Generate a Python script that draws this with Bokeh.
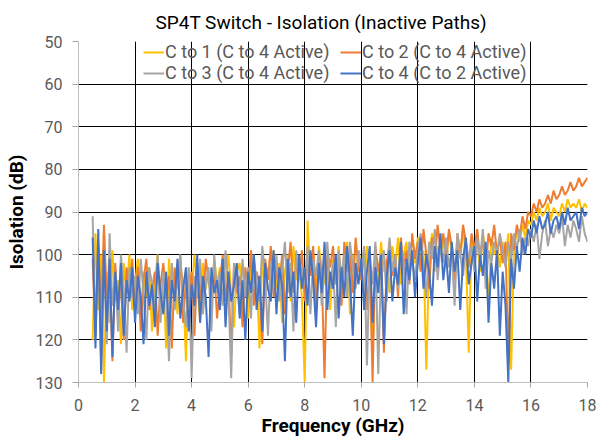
import numpy as np
from bokeh.plotting import figure
from bokeh.models import Range1d, FixedTicker, Legend, LegendItem
from bokeh.embed import file_html
from bokeh.resources import INLINE

# Frequency grid (GHz)
freq = [round(0.5 + 0.1 * i, 1) for i in range(176)]

c1_c4 = [120, 95, 113, 100, 130,
         104, 116, 99, 111, 106, 121, 102, 109, 100, 113,
         107, 101, 115, 104, 110, 103, 118, 106, 100, 112,
         105, 122, 101, 109, 104, 114, 102, 107, 125, 103,
         110, 100, 106, 116, 102, 108, 104, 113, 101, 107,
         103, 111, 106, 100, 109, 117, 104, 102, 112, 105,
         115, 101, 107, 104, 122, 100, 109, 103, 106, 99,
         108, 102, 116, 104, 100, 111, 98, 106, 103, 110,
         130, 92, 105, 100, 109, 98, 103, 107, 99, 113,
         101, 106, 98, 110, 102, 97, 114, 100, 105, 99,
         103, 108, 98, 102, 124, 100, 106, 97, 104, 101,
         109, 98, 103, 96, 107, 100, 97, 105, 99, 102,
         96, 103, 99, 127, 101, 95, 104, 98, 100, 97,
         102, 95, 99, 106, 97, 101, 94, 100, 123, 96,
         101, 97, 104, 95, 99, 112, 96, 100, 98, 103,
         97, 101, 95, 127, 99, 94, 97, 93, 96, 92,
         93, 90, 92, 89, 91, 90, 88, 92, 89, 90,
         91, 88, 90, 87, 89, 88, 89, 87, 90, 88,
         89]

c2_c4 = [101, 119, 97, 115, 93,
         110, 104, 125, 102, 114, 106, 120, 103, 109, 101,
         112, 103, 118, 106, 101, 113, 108, 104, 119, 107,
         102, 110, 105, 122, 103, 108, 100, 116, 106, 111,
         104, 119, 102, 108, 113, 101, 106, 110, 103, 115,
         107, 100, 111, 104, 124, 102, 109, 105, 117, 103,
         108, 99, 112, 104, 107, 121, 101, 106, 98, 110,
         103, 108, 100, 114, 104, 97, 109, 102, 106, 99,
         111, 101, 105, 98, 113, 100, 104, 129, 99, 103,
         98, 107, 101, 112, 97, 104, 100, 109, 96, 103,
         106, 99, 113, 101, 130, 98, 104, 100, 123, 102,
         97, 105, 100, 110, 96, 103, 99, 107, 95, 101,
         97, 104, 94, 100, 108, 96, 102, 93, 99, 95,
         101, 94, 98, 106, 95, 100, 93, 97, 103, 95,
         99, 94, 101, 96, 104, 95, 98, 93, 100, 96,
         102, 97, 126, 95, 99, 93, 96, 91, 94, 90,
         91, 88, 90, 87, 89, 88, 86, 88, 85, 87,
         86, 84, 86, 85, 83, 85, 84, 82, 84, 83,
         82]

c3_c4 = [91, 117, 98, 126, 100,
         121, 95, 112, 104, 118, 100, 108, 123, 103, 110,
         105, 114, 101, 109, 120, 103, 107, 112, 100, 116,
         104, 109, 125, 102, 113, 106, 100, 111, 117, 103,
         129, 105, 110, 101, 114, 107, 103, 118, 100, 109,
         104, 112, 99, 108, 129, 102, 106, 114, 101, 110,
         103, 115, 100, 107, 111, 98, 105, 119, 102, 108,
         100, 111, 104, 97, 109, 102, 118, 99, 106, 103,
         107, 98, 114, 101, 105, 99, 112, 103, 97, 108,
         102, 117, 99, 105, 100, 110, 97, 103, 108, 99,
         104, 98, 126, 101, 107, 97, 128, 102, 99, 111,
         96, 104, 100, 108, 98, 102, 114, 97, 101, 106,
         99, 95, 103, 110, 97, 101, 94, 106, 98, 102,
         96, 103, 99, 112, 95, 100, 105, 97, 101, 98,
         104, 96, 101, 94, 108, 99, 102, 97, 100, 95,
         99, 103, 97, 101, 95, 99, 94, 100, 96, 98,
         94, 97, 93, 101, 95, 92, 98, 94, 96, 93,
         95, 91, 98, 93, 96, 92, 94, 97, 91, 95,
         97]

c4_c2 = [96, 122, 94, 128, 99,
         118, 101, 124, 104, 113, 102, 119, 106, 111, 103,
         116, 105, 110, 121, 104, 112, 107, 117, 102, 109,
         114, 104, 119, 106, 111, 101, 115, 108, 103, 118,
         107, 112, 100, 116, 105, 110, 124, 103, 109, 106,
         113, 101, 117, 104, 111, 107, 102, 115, 106, 120,
         104, 109, 100, 113, 105, 118, 102, 108, 111, 99,
         114, 103, 107, 125, 101, 110, 104, 116, 100, 108,
         103, 112, 99, 106, 117, 102, 109, 97, 113, 104,
         108, 100, 115, 103, 110, 98, 106, 119, 102, 107,
         101, 113, 104, 98, 116, 103, 109, 100, 121, 105,
         99, 111, 103, 107, 97, 114, 101, 106, 99, 110,
         102, 96, 108, 100, 104, 112, 98, 103, 95, 106,
         100, 109, 97, 104, 99, 113, 101, 96, 107, 102,
         98, 111, 100, 105, 97, 116, 102, 108, 99, 119,
         104, 112, 130, 101, 108, 98, 104, 96, 100, 94,
         96, 92, 95, 91, 94, 93, 90, 95, 92, 91,
         94, 90, 93, 89, 92, 91, 90, 94, 89, 91,
         90]

series_names = ["C to 1 (C to 4 Active)", "C to 2 (C to 4 Active)",
                "C to 3 (C to 4 Active)", "C to 4 (C to 2 Active)"]
series_values = [c1_c4, c2_c4, c3_c4, c4_c2]
series_colors = ["#FFC000", "#ED7D31", "#A5A5A5", "#4472C4"]

x_ticks = [0, 2, 4, 6, 8, 10, 12, 14, 16, 18]
y_ticks = [50, 60, 70, 80, 90, 100, 110, 120, 130]

FONT = "Roboto"
W, H = 598, 439
BL, BR, BT, BB = 78, 11, 41, 55

p = figure(width=W, height=H, output_backend="svg", toolbar_location=None,
           x_range=Range1d(0, 18), y_range=Range1d(130, 50),
           min_border_left=BL, min_border_right=BR, min_border_top=BT,
           min_border_bottom=BB)
p.outline_line_color = None

p.title.text = "SP4T Switch - Isolation (Inactive Paths)"
p.title.align = "left"
p.title.offset = 77
p.title.text_font = FONT
p.title.text_font_size = "19px"
p.title.text_font_style = "normal"
p.title.text_color = "#000000"
p.title.standoff = 16

renderers = []
for name, vals, col in zip(series_names, series_values, series_colors):
    r = p.line(freq, vals, line_color=col, line_width=2)
    renderers.append(r)

for ax in (p.xaxis[0], p.yaxis[0]):
    ax.major_label_text_font = FONT
    ax.major_label_text_font_size = "16px"
    ax.major_label_text_color = "#595959"
    ax.axis_label_text_font = FONT
    ax.axis_label_text_font_size = "19px"
    ax.axis_label_text_font_style = "bold"
    ax.axis_label_text_color = "#000000"
    ax.minor_tick_line_color = None
    ax.major_tick_in = 0
    ax.major_tick_line_color = "#A6A6A6"
    ax.axis_line_color = "#BFBFBF"

p.xaxis.ticker = FixedTicker(ticks=x_ticks)
p.yaxis.ticker = FixedTicker(ticks=y_ticks)
p.xaxis.axis_label = "Frequency (GHz)"
p.yaxis.axis_label = "Isolation (dB)"
p.xaxis.major_tick_out = 5
p.yaxis.major_tick_out = 6
p.xaxis.major_label_standoff = 11
p.xaxis.axis_label_standoff = 0
p.yaxis.major_label_standoff = 10
p.yaxis.axis_label_standoff = 5

p.xgrid.grid_line_color = "#000000"
p.ygrid.grid_line_color = "#000000"

# legend: Bokeh fills columns first -> order items so rows read 1,2 / 3,4
order = [0, 2, 1, 3]
frame_h = H - BT - BB
item_h = 25
gap = -7
leg_h = 2 * item_h + gap
legend = Legend(items=[LegendItem(label=series_names[i], renderers=[renderers[i]]) for i in order],
                ncols=2, location=(65, frame_h - leg_h - 1))
legend.background_fill_alpha = 0
legend.border_line_alpha = 0
legend.label_text_font = FONT
legend.label_text_font_size = "18px"
legend.label_text_color = "#595959"
legend.glyph_width = 21
legend.glyph_height = 20
legend.label_height = 20
legend.label_width = 175
legend.label_standoff = 1
legend.spacing = gap
legend.padding = 0
legend.margin = 0
p.add_layout(legend, "center")

open("out.html", "w").write(file_html(p, INLINE))
